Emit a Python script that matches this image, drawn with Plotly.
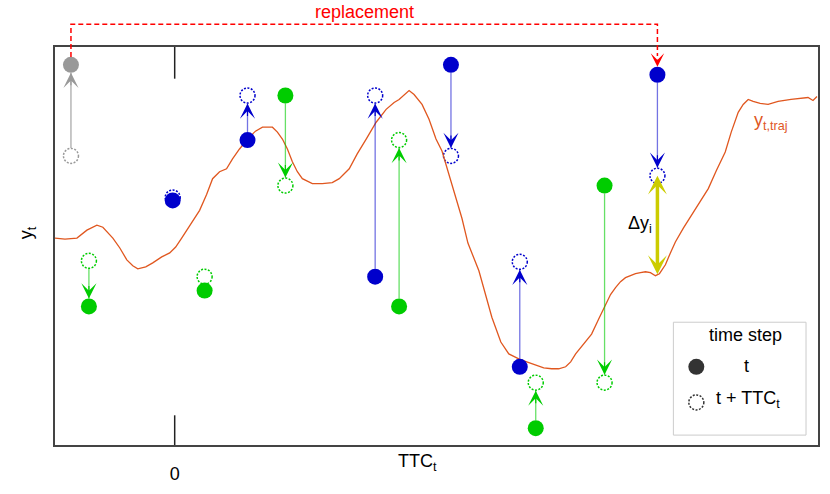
import plotly.graph_objects as go

# reference trajectory y_t,traj (x: time, 0 = TTC reference tick)
traj_x = [-120, -110, -98, -88, -78, -72, -62, -55, -48, -42, -37, -29, -22, -13, -5, 1, 7, 15, 25, 32,
          38, 45, 52, 58, 65, 73, 81, 88, 98, 103, 108, 113, 118, 123, 128, 138, 148, 158, 165, 175,
          183, 192, 202, 212, 220, 225, 230, 235, 240, 248, 255, 262, 268, 278, 288, 294, 305, 318, 327, 335,
          345, 353, 362, 370, 378, 385, 392, 397, 402, 410, 418, 425, 432, 437, 442, 447, 452, 457, 462, 467,
          472, 477, 482, 486, 492, 497, 502, 510, 518, 525, 535, 543, 552, 558, 565, 570, 575, 580, 587, 595,
          605, 618, 628, 635, 640, 644]
traj_y = [209, 208, 209, 217, 222, 220, 209, 199, 187, 181, 178, 180, 184, 190, 194, 200, 209, 221, 237, 253,
          269, 276, 279, 289, 299, 309, 317, 321, 321, 316, 309, 299, 286, 276, 269, 264, 264, 265, 269, 279,
          294, 309, 326, 339, 346, 349, 354, 358, 354, 344, 329, 309, 297, 262, 229, 204, 176, 129, 104, 92,
          87, 84, 81, 78, 77, 77, 79, 84, 92, 102, 112, 127, 142, 152, 159, 165, 169, 171, 173, 174,
          175, 174, 171, 173, 182, 194, 205, 219, 232, 244, 259, 277, 296, 316, 336, 344, 349, 347, 345, 344,
          347, 349, 350, 351, 348, 352]

# sample points: value at t and value at t + TTC_t
pt_x = [-104, -86, -2, 30, 73, 111, 201, 225, 277, 346, 362, 431, 484]
pt_y_t = [384, 140, 247, 156, 308, 353, 170, 140, 384, 79, 17, 262, 374]
pt_y_ttc = [292, 186, 250, 170, 353, 262, 353, 308, 292, 185, 63, 63, 272]
pt_group = ["old", "green", "blue", "green", "blue", "green", "blue", "green", "blue", "blue", "green", "green", "blue"]
pt_arrow = ["t", "t", "", "", "ttc", "ttc", "ttc", "ttc", "ttc", "ttc", "ttc", "ttc", "ttc"]

# delta y_i between trajectory and prediction
dy_x = 484
dy_lo = 171
dy_hi = 272

colors = {"blue": "#0000cc", "green": "#00cc00", "old": "#999999"}
shafts = {"blue": "rgba(0,0,204,0.55)", "green": "rgba(0,204,0,0.6)", "old": "rgba(150,150,150,0.8)"}
FONT = "Liberation Sans, Arial, sans-serif"
R = 8  # marker radius (1 unit = 1 px)

fig = go.Figure()

fig.add_trace(go.Scatter(x=traj_x, y=traj_y, mode="lines",
                         line=dict(color="#e0571f", width=1.3), hoverinfo="skip"))

shapes = []
annotations = []

# shafts of the arrows
for g in ["old", "green", "blue"]:
    xs, ys = [], []
    for x, yt, yc, grp, a in zip(pt_x, pt_y_t, pt_y_ttc, pt_group, pt_arrow):
        if grp != g or not a:
            continue
        tail, tip = (yt, yc) if a == "ttc" else (yc, yt)
        s = 1 if tip > tail else -1
        xs += [x, x, None]
        ys += [tail + s * R, tip - s * R, None]
        annotations.append(dict(x=x, y=tip, xref="x", yref="y", ax=0, ay=22 * s,
                                showarrow=True, arrowhead=3, arrowsize=2.1, arrowwidth=1.2,
                                arrowcolor=colors[grp], standoff=R, text=""))
    fig.add_trace(go.Scatter(x=xs, y=ys, mode="lines", line=dict(color=shafts[g], width=1.3),
                             hoverinfo="skip"))

# open dotted circles at t + TTC_t
for x, yc, grp in zip(pt_x, pt_y_ttc, pt_group):
    shapes.append(dict(type="circle", xref="x", yref="y", xsizemode="pixel", ysizemode="pixel",
                       xanchor=x, yanchor=yc, x0=-7.5, x1=7.5, y0=-7.5, y1=7.5, layer="below",
                       line=dict(color=colors[grp], width=1.5, dash="2px,1.5px")))

# filled markers at t
for g in ["old", "green", "blue"]:
    fig.add_trace(go.Scatter(
        x=[x for x, grp in zip(pt_x, pt_group) if grp == g],
        y=[y for y, grp in zip(pt_y_t, pt_group) if grp == g],
        mode="markers", marker=dict(size=16, color=colors[g], line=dict(width=0)),
        hoverinfo="skip"))

# delta y double arrow
annotations.append(dict(x=dy_x, y=dy_hi, ax=dy_x, ay=dy_lo, xref="x", yref="y", axref="x", ayref="y",
                        showarrow=True, arrowside="end+start", arrowhead=3, startarrowhead=3,
                        arrowsize=0.9, startarrowsize=0.9, arrowwidth=3.5, arrowcolor="#cccc00", text=""))
annotations.append(dict(x=467, y=223, xref="x", yref="y", text="Δy<sub>i</sub>", showarrow=False,
                        font=dict(size=18, color="black")))


# replacement connector
def py(v):
    return (449 - v) / 402


shapes.append(dict(type="path", xref="x", yref="paper",
                   path=f"M {pt_x[0]},{py(57)} V {py(24)} H {pt_x[-1]} V {py(56)}",
                   line=dict(color="#ff0000", width=1.5, dash="5px,3px")))
annotations.append(dict(x=pt_x[-1], y=pt_y_t[-1], xref="x", yref="y", ax=0, ay=-14, showarrow=True,
                        arrowhead=3, arrowsize=1.5, arrowwidth=1.5, arrowcolor="#ff0000",
                        standoff=R, text=""))
annotations.append(dict(x=190, y=py(12), xref="x", yref="paper", yanchor="middle", text="replacement",
                        showarrow=False, font=dict(size=18, color="#ff0000")))

# tick marks at 0
shapes.append(dict(type="line", xref="x", yref="paper", x0=0, x1=0, y0=1, y1=py(79),
                   line=dict(color="#222222", width=1.5)))
shapes.append(dict(type="line", xref="x", yref="paper", x0=0, x1=0, y0=0, y1=py(419),
                   line=dict(color="#222222", width=1.5)))

# labels
annotations.append(dict(x=598, y=327, xref="x", yref="y", text="y<sub>t,traj</sub>", showarrow=False,
                        font=dict(size=18, color="#e0571f")))
annotations.append(dict(x=243, y=py(467), xref="x", yref="paper", yanchor="middle", text="TTC<sub>t</sub>",
                        showarrow=False, font=dict(size=18, color="black")))
annotations.append(dict(x=(27 - 55) / 765, y=py(235), xref="paper", yref="paper", xanchor="center",
                        yanchor="middle", text="y<sub>t</sub>", textangle=-90, showarrow=False,
                        font=dict(size=18, color="black")))

# custom legend
shapes.append(dict(type="rect", xref="x", yref="y", x0=500, x1=633, y0=10, y1=124,
                   line=dict(color="#cccccc", width=1), fillcolor="white", layer="below"))
shapes.append(dict(type="circle", xref="x", yref="y", xsizemode="pixel", ysizemode="pixel",
                   xanchor=523, yanchor=79, x0=-8, x1=8, y0=-8, y1=8,
                   fillcolor="#333333", line=dict(width=0)))
shapes.append(dict(type="circle", xref="x", yref="y", xsizemode="pixel", ysizemode="pixel",
                   xanchor=523, yanchor=43, x0=-7.5, x1=7.5, y0=-7.5, y1=7.5,
                   line=dict(color="#333333", width=1.5, dash="2px,1.5px")))
annotations.append(dict(x=572, y=111, xref="x", yref="y", text="time step", showarrow=False,
                        font=dict(size=18, color="black")))
annotations.append(dict(x=573, y=80, xref="x", yref="y", text="t", showarrow=False,
                        font=dict(size=18, color="black")))
annotations.append(dict(x=575, y=46, xref="x", yref="y", text="t + TTC<sub>t</sub>", showarrow=False,
                        font=dict(size=18, color="black")))

fig.update_layout(
    width=830, height=494,
    margin=dict(l=55, r=10, t=47, b=45),
    paper_bgcolor="white", plot_bgcolor="white",
    showlegend=False,
    font=dict(family=FONT, size=18, color="black"),
    xaxis=dict(range=[-120, 645], showgrid=False, zeroline=False, showline=True, mirror=True,
               linecolor="#444444", linewidth=1.5, tickvals=[0], ticktext=["0"],
               ticks="outside", ticklen=12, tickcolor="rgba(0,0,0,0)", tickfont=dict(size=18)),
    yaxis=dict(range=[0, 402], showgrid=False, zeroline=False, showline=True, mirror=True,
               linecolor="#444444", linewidth=1.5, showticklabels=False, ticks=""),
    shapes=shapes,
    annotations=annotations,
)

# drop the page's default body margin so the figure sits at the window's corner
fig.write_html("out.html", config={"displayModeBar": False},
               post_script="document.body.style.margin = '0px';")
